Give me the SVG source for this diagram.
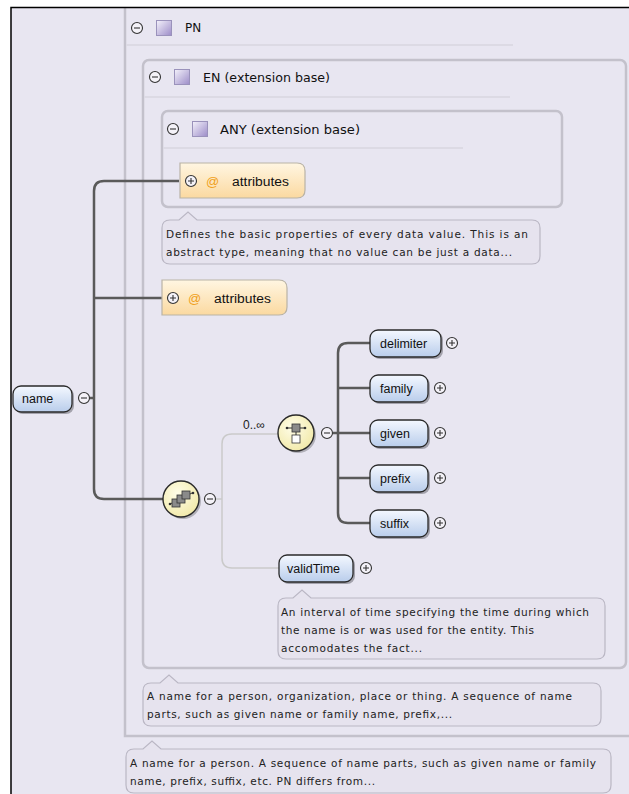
<svg xmlns="http://www.w3.org/2000/svg" width="629" height="794" viewBox="0 0 629 794">
<defs>
<linearGradient id="gEl" x1="0" y1="0" x2="0" y2="1"><stop offset="0" stop-color="#f4f8ff"/><stop offset="1" stop-color="#b9cdeb"/></linearGradient>
<linearGradient id="gAt" x1="0" y1="0" x2="0" y2="1"><stop offset="0" stop-color="#fff6e2"/><stop offset="1" stop-color="#fbd9a0"/></linearGradient>
<radialGradient id="gSeq" cx="0.4" cy="0.35" r="0.7"><stop offset="0" stop-color="#fffde8"/><stop offset="1" stop-color="#f1e9a8"/></radialGradient>
<linearGradient id="gSq" x1="0" y1="0" x2="1" y2="1"><stop offset="0" stop-color="#f4f2fb"/><stop offset="1" stop-color="#9c8cc8"/></linearGradient>
</defs>
<style>
.box{fill:none;stroke:#c3c1cb;stroke-width:2.5}
.sep{stroke:#dcdae4;stroke-width:2}
.hdr{font-family:"DejaVu Sans",Verdana,sans-serif;font-size:12px;fill:#111}
.el{fill:url(#gEl);stroke:#2a2a2a;stroke-width:1.3}
.sh{fill:#6a6a72;opacity:0.55}
.att{fill:url(#gAt);stroke:#b9b3a6;stroke-width:1.2}
.lbl{font-family:"Liberation Sans",Arial,sans-serif;font-size:12.5px;fill:#111}
.tip{fill:#e6e3ee;stroke:#bab7c4;stroke-width:1.2}
.tt{font-family:"DejaVu Sans",Verdana,sans-serif;font-size:10.5px;fill:#222}
.con{fill:none;stroke:#5a5a5a;stroke-width:2.5}
.thin{fill:none;stroke:#cacaca;stroke-width:1.5}
.pm{fill:#f4f2f8;stroke:#333;stroke-width:1.1}
.pmt{stroke:#333;stroke-width:1.1}
.seq{fill:url(#gSeq);stroke:#2a2a2a;stroke-width:1.4}
</style>
<rect x="0" y="0" width="629" height="794" fill="#ffffff"/>
<rect x="11" y="7" width="618" height="787" fill="#e8e6f1"/>

<g id="PN">
<path class="box" d="M125,8 V736 H640"/>
<line class="sep" x1="126" y1="45" x2="513" y2="45"/>
<circle class="pm" cx="137" cy="28" r="5.5"/><line class="pmt" x1="134" y1="28" x2="140" y2="28"/>
<rect x="156.5" y="20.5" width="15" height="15" fill="url(#gSq)" stroke="#9a92bb"/>
<text class="hdr" x="185" y="32">PN</text>
</g>

<g id="EN">
<rect class="box" x="143" y="60" width="483" height="608" rx="6"/>
<line class="sep" x1="144" y1="97" x2="510" y2="97"/>
<circle class="pm" cx="155" cy="77" r="5.5"/><line class="pmt" x1="152" y1="77" x2="158" y2="77"/>
<rect x="174.5" y="69.5" width="15" height="15" fill="url(#gSq)" stroke="#9a92bb"/>
<text class="hdr" x="203" y="82" textLength="127" lengthAdjust="spacingAndGlyphs">EN (extension base)</text>
</g>

<g id="ANY">
<rect class="box" x="162" y="111" width="400" height="96" rx="6"/>
<line class="sep" x1="163" y1="148" x2="463" y2="148"/>
<circle class="pm" cx="173" cy="129" r="5.5"/><line class="pmt" x1="170" y1="129" x2="176" y2="129"/>
<rect x="192.5" y="121.5" width="15" height="15" fill="url(#gSq)" stroke="#9a92bb"/>
<text class="hdr" x="220" y="134" textLength="140" lengthAdjust="spacingAndGlyphs">ANY (extension base)</text>
</g>

<g id="connectors">
<path class="con" d="M89,398 H94"/>
<path class="con" d="M179,181 H104 Q94,181 94,191 V489 Q94,499 104,499 H163"/>
<path class="con" d="M94,298 H162"/>
<path class="thin" d="M216,499 H222"/>
<path class="thin" d="M278,434 H232 Q222,434 222,444 V558 Q222,568 232,568 H279"/>
<path class="con" d="M333,433 H338"/>
<path class="con" d="M370,343 H348 Q338,343 338,353 V513 Q338,523 348,523 H370"/>
<path class="con" d="M338,388 H370 M338,433 H370 M338,478 H370"/>
</g>

<g id="attributes_any">
<path class="att" d="M180,163 H297 Q305,163 305,171 V190 Q305,198 297,198 H180 Z"/>
<circle class="pm" cx="191" cy="181" r="5.5"/><path class="pmt" d="M188,181 H194 M191,178 V184"/>
<text x="206" y="186" font-family="Liberation Sans,Arial,sans-serif" font-size="13" fill="#f0a020">@</text>
<text class="lbl" x="232" y="186" textLength="57" lengthAdjust="spacingAndGlyphs">attributes</text>
</g>

<g id="tip_any">
<path class="tip" d="M170,220 H179 L188,212 L197,220 H532 Q540,220 540,228 V256 Q540,264 532,264 H170 Q162,264 162,256 V228 Q162,220 170,220 Z"/>
<text class="tt" x="166" y="238" textLength="362" lengthAdjust="spacing">Defines the basic properties of every data value. This is an</text>
<text class="tt" x="166" y="256" textLength="346" lengthAdjust="spacing">abstract type, meaning that no value can be just a data...</text>
</g>

<g id="attributes_en">
<path class="att" d="M162,280 H279 Q287,280 287,288 V307 Q287,315 279,315 H162 Z"/>
<circle class="pm" cx="173" cy="298" r="5.5"/><path class="pmt" d="M170,298 H176 M173,295 V301"/>
<text x="188" y="303" font-family="Liberation Sans,Arial,sans-serif" font-size="13" fill="#f0a020">@</text>
<text class="lbl" x="214" y="303" textLength="57" lengthAdjust="spacingAndGlyphs">attributes</text>
</g>

<g id="name">
<rect class="sh" x="15" y="388" width="59" height="26" rx="8"/>
<rect class="el" x="13" y="386" width="59" height="26" rx="8"/>
<text class="lbl" x="22" y="403">name</text>
<circle class="pm" cx="84" cy="398" r="5.5"/><line class="pmt" x1="81" y1="398" x2="87" y2="398"/>
</g>

<g id="seq_outer">
<circle cx="183" cy="501" r="18" fill="#7a7a80" opacity="0.5"/>
<circle class="seq" cx="181" cy="499" r="18"/>
<line x1="170" y1="504" x2="192" y2="493" stroke="#333" stroke-width="1"/>
<rect x="172" y="499" width="8" height="8" fill="#8a8a8a" stroke="#333" stroke-width="0.8"/>
<rect x="177" y="495" width="8" height="8" fill="#8a8a8a" stroke="#333" stroke-width="0.8"/>
<rect x="182" y="491" width="8" height="8" fill="#8a8a8a" stroke="#333" stroke-width="0.8"/>
<circle cx="170" cy="504" r="1.3" fill="#333"/><circle cx="193" cy="493" r="1.3" fill="#333"/>
<circle class="pm" cx="210" cy="499" r="5.5"/><line class="pmt" x1="207" y1="499" x2="213" y2="499"/>
</g>

<g id="seq_inner">
<text x="243" y="429" font-family="Liberation Sans,Arial,sans-serif" font-size="12" fill="#222">0..∞</text>
<circle cx="298" cy="435" r="18" fill="#7a7a80" opacity="0.5"/>
<circle class="seq" cx="296" cy="433" r="18"/>
<line x1="287" y1="428" x2="305" y2="428" stroke="#333" stroke-width="1"/>
<circle cx="287" cy="428" r="1.3" fill="#333"/><circle cx="305" cy="428" r="1.3" fill="#333"/>
<rect x="292" y="424" width="8" height="8" fill="#8a8a8a" stroke="#333" stroke-width="0.8"/>
<line x1="296" y1="432" x2="296" y2="435" stroke="#333" stroke-width="1"/>
<rect x="292" y="435" width="8" height="8" fill="#ffffff" stroke="#333" stroke-width="0.8"/>
<circle class="pm" cx="327" cy="433" r="5.5"/><line class="pmt" x1="324" y1="433" x2="330" y2="433"/>
</g>

<g id="delimiter">
<rect class="sh" x="372" y="332" width="71" height="27" rx="8"/>
<rect class="el" x="370" y="330" width="71" height="27" rx="8"/>
<text class="lbl" x="380" y="348">delimiter</text>
<circle class="pm" cx="452" cy="343" r="5.5"/><path class="pmt" d="M449,343 H455 M452,340 V346"/>
</g>
<g id="family">
<rect class="sh" x="372" y="377" width="58" height="27" rx="8"/>
<rect class="el" x="370" y="375" width="58" height="27" rx="8"/>
<text class="lbl" x="380" y="393">family</text>
<circle class="pm" cx="440" cy="388" r="5.5"/><path class="pmt" d="M437,388 H443 M440,385 V391"/>
</g>
<g id="given">
<rect class="sh" x="372" y="422" width="58" height="27" rx="8"/>
<rect class="el" x="370" y="420" width="58" height="27" rx="8"/>
<text class="lbl" x="380" y="438">given</text>
<circle class="pm" cx="440" cy="433" r="5.5"/><path class="pmt" d="M437,433 H443 M440,430 V436"/>
</g>
<g id="prefix">
<rect class="sh" x="372" y="467" width="58" height="27" rx="8"/>
<rect class="el" x="370" y="465" width="58" height="27" rx="8"/>
<text class="lbl" x="380" y="483">prefix</text>
<circle class="pm" cx="440" cy="478" r="5.5"/><path class="pmt" d="M437,478 H443 M440,475 V481"/>
</g>
<g id="suffix">
<rect class="sh" x="372" y="512" width="58" height="27" rx="8"/>
<rect class="el" x="370" y="510" width="58" height="27" rx="8"/>
<text class="lbl" x="380" y="528">suffix</text>
<circle class="pm" cx="440" cy="523" r="5.5"/><path class="pmt" d="M437,523 H443 M440,520 V526"/>
</g>

<g id="validTime">
<rect class="sh" x="281" y="557" width="74" height="27" rx="8"/>
<rect class="el" x="279" y="555" width="74" height="27" rx="8"/>
<text class="lbl" x="287" y="573">validTime</text>
<circle class="pm" cx="366" cy="568" r="5.5"/><path class="pmt" d="M363,568 H369 M366,565 V571"/>
</g>

<g id="tip_validTime">
<path class="tip" d="M286,598 H293 L302,590 L311,598 H597 Q605,598 605,606 V651 Q605,659 597,659 H286 Q278,659 278,651 V606 Q278,598 286,598 Z"/>
<text class="tt" x="281" y="616" textLength="308" lengthAdjust="spacing">An interval of time specifying the time during which</text>
<text class="tt" x="281" y="634" textLength="253" lengthAdjust="spacing">the name is or was used for the entity. This</text>
<text class="tt" x="281" y="652" textLength="141" lengthAdjust="spacing">accomodates the fact...</text>
</g>

<g id="tip_en">
<path class="tip" d="M151,683 H160 L169,675 L178,683 H593 Q601,683 601,691 V718 Q601,726 593,726 H151 Q143,726 143,718 V691 Q143,683 151,683 Z"/>
<text class="tt" x="147" y="700" textLength="425" lengthAdjust="spacing">A name for a person, organization, place or thing. A sequence of name</text>
<text class="tt" x="147" y="718" textLength="305" lengthAdjust="spacing">parts, such as given name or family name, prefix,...</text>
</g>

<g id="tip_pn">
<path class="tip" d="M134,749 H143 L152,741 L161,749 H603 Q611,749 611,757 V785 Q611,793 603,793 H134 Q126,793 126,785 V757 Q126,749 134,749 Z"/>
<text class="tt" x="130" y="767" textLength="466" lengthAdjust="spacing">A name for a person. A sequence of name parts, such as given name or family</text>
<text class="tt" x="130" y="785" textLength="245" lengthAdjust="spacing">name, prefix, suffix, etc. PN differs from...</text>
</g>

<path d="M11,794 V7.5 H629" fill="none" stroke="#000" stroke-width="1.5"/>
</svg>
